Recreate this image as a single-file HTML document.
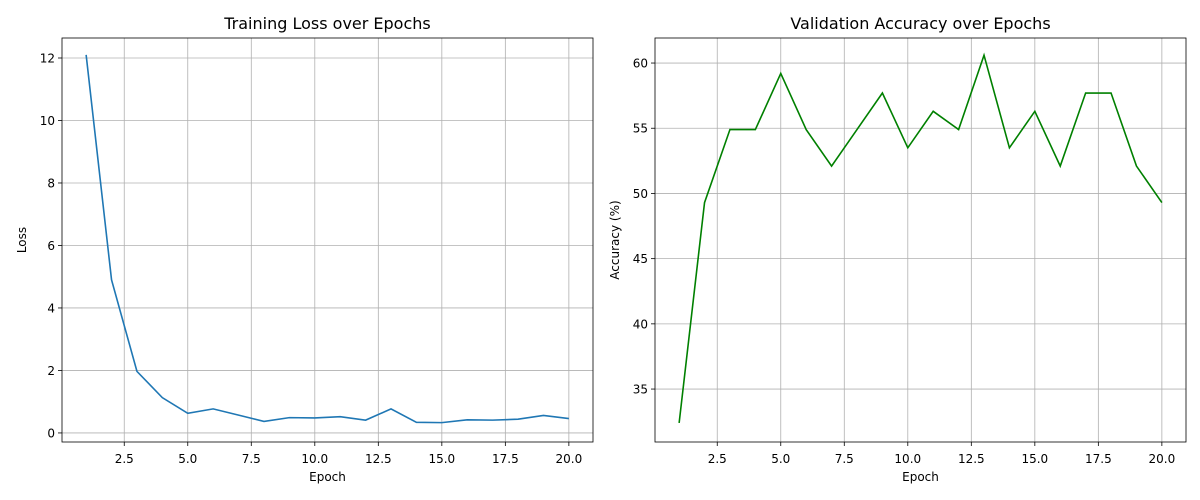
<!DOCTYPE html>
<html><head><meta charset="utf-8"><style>
body{margin:0;background:#fff;font-family:"Liberation Sans","DejaVu Sans",sans-serif;overflow:hidden;}
svg{display:block;}
svg text{font-family:"DejaVu Sans","Liberation Sans",sans-serif;}
</style></head><body>
<svg id="c" width="1200" height="500"></svg>
<script>
const epochs=[1,2,3,4,5,6,7,8,9,10,11,12,13,14,15,16,17,18,19,20];
const lossValues=[12.1,4.9,1.97,1.13,0.63,0.77,0.57,0.37,0.49,0.48,0.52,0.41,0.77,0.34,0.33,0.42,0.41,0.44,0.56,0.46];
const accValues=[32.4,49.3,54.9,54.9,59.2,54.9,52.1,54.9,57.7,53.5,56.3,54.9,60.6,53.5,56.3,52.1,57.7,57.7,52.1,49.3];
const xTicks=[2.5,5.0,7.5,10.0,12.5,15.0,17.5,20.0];
const lossTicks=[0,2,4,6,8,10,12];
const accTicks=[35,40,45,50,55,60];
const svg=document.getElementById('c');
const NS='http://www.w3.org/2000/svg';
function mk(t,a,txt){const e=document.createElementNS(NS,t);for(const k in a)e.setAttribute(k,a[k]);if(txt!=null)e.textContent=txt;svg.appendChild(e);return e;}
function panel(o){
  const sx=v=>o.x0+(v-o.xmin)/(o.xmax-o.xmin)*(o.x1-o.x0);
  const sy=v=>o.y1-(v-o.ymin)/(o.ymax-o.ymin)*(o.y1-o.y0);
  xTicks.forEach(t=>{const x=sx(t);
    const g=mk('line',{x1:x,x2:x,y1:o.y0,y2:o.y1,stroke:'#b0b0b0','stroke-width':0.8});
    
    mk('line',{x1:x,x2:x,y1:o.y1,y2:o.y1+4,stroke:'#000','stroke-width':0.8});
    const l=mk('text',{x:x,y:o.y1+21,'font-size':12,'text-anchor':'middle'},t.toFixed(1));
    });
  o.yt.forEach(t=>{const y=sy(t);
    const g=mk('line',{x1:o.x0,x2:o.x1,y1:y,y2:y,stroke:'#b0b0b0','stroke-width':0.8});
    
    mk('line',{x1:o.x0-4,x2:o.x0,y1:y,y2:y,stroke:'#000','stroke-width':0.8});
    const l=mk('text',{x:o.x0-7,y:y+4.5,'font-size':12,'text-anchor':'end'},String(t));
    });
  const pts=epochs.map((e,i)=>sx(e)+','+sy(o.vals[i])).join(' ');
  const pl=mk('polyline',{points:pts,fill:'none',stroke:o.color,'stroke-width':1.6});
  
  const fr=mk('rect',{x:o.x0,y:o.y0,width:o.x1-o.x0,height:o.y1-o.y0,fill:'none',stroke:'#000','stroke-width':0.8});
  
  const ti=mk('text',{x:(o.x0+o.x1)/2,y:o.y0-9,'font-size':16,'text-anchor':'middle'},o.title);
  
  const xl=mk('text',{x:(o.x0+o.x1)/2,y:o.y1+39,'font-size':12,'text-anchor':'middle'},'Epoch');
  
  const cy=(o.y0+o.y1)/2;
  const yl=mk('text',{x:o.ylx,y:cy,'font-size':12,'text-anchor':'middle',transform:`rotate(-90 ${o.ylx} ${cy})`},o.ylabel);
  
}
panel({name:'loss',x0:62,x1:593,y0:38,y1:442,xmin:0.05,xmax:20.95,ymin:-0.29,ymax:12.64,yt:lossTicks,vals:lossValues,color:'#1f77b4',title:'Training Loss over Epochs',ylabel:'Loss',ylx:26});
panel({name:'accuracy',x0:655,x1:1186,y0:38,y1:442,xmin:0.05,xmax:20.95,ymin:30.94,ymax:61.92,yt:accTicks,vals:accValues,color:'#008000',title:'Validation Accuracy over Epochs',ylabel:'Accuracy (%)',ylx:619});
</script>
</body></html>
